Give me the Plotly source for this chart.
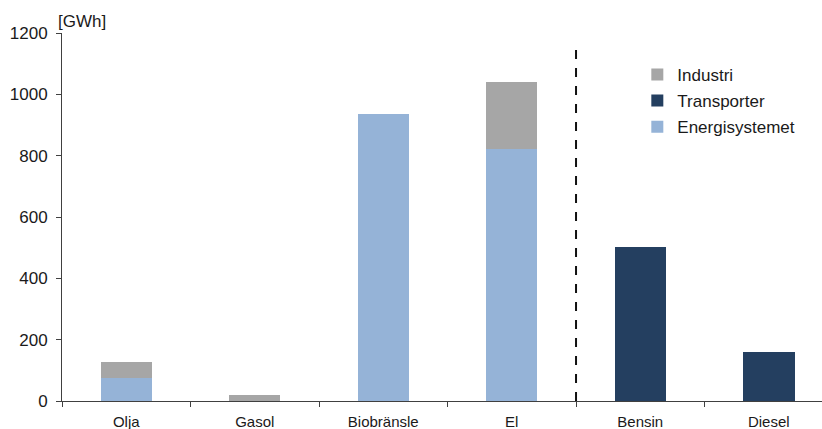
import plotly.graph_objects as go

categories = ["Olja", "Gasol", "Biobränsle", "El", "Bensin", "Diesel"]
energisystemet = [76, 0, 937, 822, 0, 0]
transporter = [0, 0, 0, 0, 501, 161]
industri = [52, 19, 0, 217, 0, 0]
y_ticks = [0, 200, 400, 600, 800, 1000, 1200]

FONT = "Arial, Liberation Sans, sans-serif"
C_IND = "#A6A6A6"
C_TRA = "#243F60"
C_ENE = "#95B3D7"

fig = go.Figure()
fig.add_trace(go.Bar(x=categories, y=energisystemet, name="Energisystemet",
                     marker=dict(color=C_ENE, line=dict(width=0)), width=0.4,
                     legendgroup="e", legendrank=3))
fig.add_trace(go.Bar(x=categories, y=transporter, name="Transporter",
                     marker=dict(color=C_TRA, line=dict(width=0)), width=0.4,
                     legendgroup="t", legendrank=2))
fig.add_trace(go.Bar(x=categories, y=industri, name="Industri",
                     marker=dict(color=C_IND, line=dict(width=0)), width=0.4,
                     legendgroup="i", legendrank=1))

fig.add_shape(type="line", xref="x", yref="y", x0=3.5, x1=3.5, y0=0, y1=1155,
              line=dict(color="#111111", width=2, dash="dash"))

fig.add_annotation(text="[GWh]", xref="paper", yref="paper", x=-0.008, y=1.0,
                   yshift=12, xanchor="left", yanchor="middle", showarrow=False,
                   font=dict(family=FONT, size=17, color="#1a1a1a"))

fig.update_layout(
    barmode="stack",
    width=822, height=429,
    margin=dict(l=62, r=0, t=33, b=28),
    paper_bgcolor="white", plot_bgcolor="white",
    font=dict(family=FONT, color="#1a1a1a"),
    showlegend=True,
    legend=dict(x=0.757, y=0.935, xanchor="left", yanchor="top",
                traceorder="grouped", tracegroupgap=1,
                font=dict(family=FONT, size=17, color="#1a1a1a"),
                bgcolor="rgba(0,0,0,0)"),
    bargap=0.6,
)
fig.update_xaxes(range=[-0.5, 5.414], showline=True, linecolor="#404040",
                 linewidth=1, ticks="outside", tickson="boundaries", ticklen=5,
                 tickcolor="#404040", showgrid=False, ticklabelstandoff=7,
                 tickfont=dict(family=FONT, size=15, color="#1a1a1a"))
fig.update_yaxes(range=[0, 1200], tickvals=y_ticks, showline=True,
                 linecolor="#404040", linewidth=1, ticks="outside", ticklen=5,
                 tickcolor="#404040", showgrid=False, zeroline=False,
                 ticklabelstandoff=5,
                 tickfont=dict(family=FONT, size=17, color="#1a1a1a"))

fig.write_html("out.html")
